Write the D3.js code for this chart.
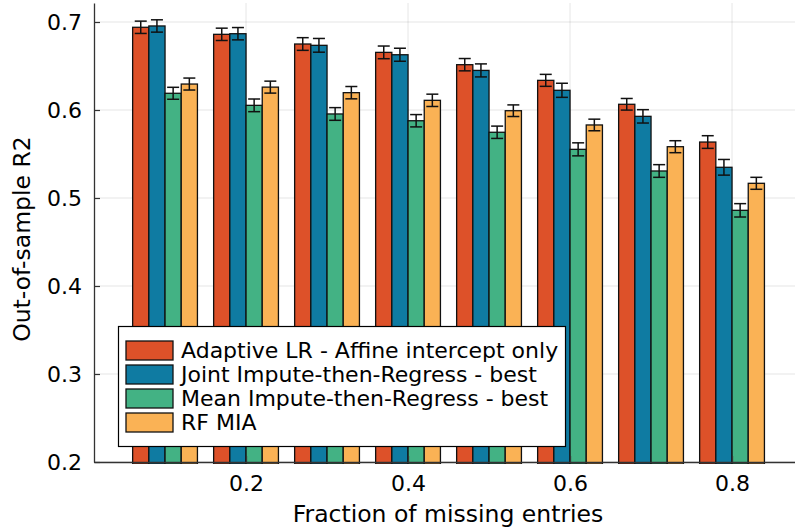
<!DOCTYPE html>
<html><head><meta charset="utf-8">
<script src="https://cdn.jsdelivr.net/npm/d3@7"></script>
<style>body{margin:0;background:#fff}svg{display:block}</style>
</head><body><svg id="c" width="795" height="529"></svg>
<script>
const fractions = [0.1,0.2,0.3,0.4,0.5,0.6,0.7,0.8];
const seriesNames = ["Adaptive LR - Affine intercept only","Joint Impute-then-Regress - best","Mean Impute-then-Regress - best","RF MIA"];
const colors = ["#dd5129","#0f7ba2","#43b284","#fab255"];
const adaptive = [0.694,0.686,0.675,0.6655,0.6515,0.6337,0.6065,0.5636];
const joint    = [0.6955,0.6867,0.6735,0.6628,0.645,0.6224,0.5928,0.5349];
const mean     = [0.619,0.6053,0.5955,0.5878,0.5747,0.5553,0.5307,0.486];
const rfmia    = [0.6295,0.626,0.6197,0.611,0.5992,0.583,0.5583,0.5167];
const adaptiveErr = [0.007,0.007,0.0072,0.0072,0.007,0.0068,0.0066,0.0072];
const jointErr    = [0.007,0.007,0.0078,0.0074,0.0074,0.008,0.0076,0.0089];
const meanErr     = [0.0068,0.0072,0.0072,0.007,0.007,0.0074,0.0072,0.0076];
const rfmiaErr    = [0.0068,0.0068,0.007,0.007,0.0066,0.0066,0.0068,0.0068];
const yTicks = [0.2,0.3,0.4,0.5,0.6,0.7];
const xTicks = [0.2,0.4,0.6,0.8];
const xTitle = "Fraction of missing entries";
const yTitle = "Out-of-sample R2";

const values = [adaptive, joint, mean, rfmia];
const errs = [adaptiveErr, jointErr, meanErr, rfmiaErr];

const svg = d3.select("#c");
const L = 94, R = 795, T = 3, B = 462;
const x = d3.scaleLinear().domain([0.0123, 0.0123 + (R-L)/810]).range([L, R]);
const y = d3.scaleLinear().domain([0.2, 0.7216]).range([B, T]);
const font = "DejaVu Sans";

// grid
const g = svg.append("g");
g.selectAll(".gy").data(yTicks).join("line")
  .attr("x1", L).attr("x2", R).attr("y1", d=>y(d)).attr("y2", d=>y(d))
  .attr("stroke", "#000").attr("stroke-opacity", 0.1).attr("stroke-width", 1);
g.selectAll(".gx").data(xTicks).join("line")
  .attr("x1", d=>x(d)).attr("x2", d=>x(d)).attr("y1", T).attr("y2", B)
  .attr("stroke", "#000").attr("stroke-opacity", 0.1).attr("stroke-width", 1);

svg.append("defs").append("clipPath").attr("id","clip")
  .append("rect").attr("x", L).attr("y", T).attr("width", R-L).attr("height", B-T+2);

const barW = 0.02; // in data units
const bars = svg.append("g").attr("clip-path","url(#clip)");
values.forEach((vals, s) => {
  const off = (s - 1.5) * barW;
  bars.append("g").selectAll("rect").data(vals).join("rect")
    .attr("x", (d,i)=>x(fractions[i]+off-barW/2))
    .attr("width", x(barW)-x(0))
    .attr("y", d=>y(d))
    .attr("height", d=>y(0.2)-y(d)+2)
    .attr("fill", colors[s]).attr("stroke", "#111").attr("stroke-width", 1.3);
});
// error bars
values.forEach((vals, s) => {
  const off = (s - 1.5) * barW;
  const capHalf = 6;
  const eg = bars.append("g").attr("stroke","#111").attr("stroke-width",1.5);
  vals.forEach((v,i)=>{
    const cx = x(fractions[i]+off), e = errs[s][i];
    eg.append("line").attr("x1",cx).attr("x2",cx).attr("y1",y(v+e)).attr("y2",y(v-e));
    eg.append("line").attr("x1",cx-capHalf).attr("x2",cx+capHalf).attr("y1",y(v+e)).attr("y2",y(v+e));
    eg.append("line").attr("x1",cx-capHalf).attr("x2",cx+capHalf).attr("y1",y(v-e)).attr("y2",y(v-e));
  });
});

// axes
const ya = svg.append("g").attr("transform",`translate(${L},0)`)
  .call(d3.axisLeft(y).tickValues(yTicks).tickFormat(d3.format(".1f")).tickSizeInner(-6).tickSizeOuter(0).tickPadding(12));
const xa = svg.append("g").attr("transform",`translate(0,${B})`)
  .call(d3.axisBottom(x).tickValues(xTicks).tickFormat(d3.format(".1f")).tickSizeInner(-6).tickSizeOuter(0).tickPadding(13));
[ya, xa].forEach(a=>{
  a.select(".domain").attr("stroke","#333").attr("stroke-width",1.3);
  a.selectAll(".tick line").attr("stroke","#333").attr("stroke-width",1.2);
  a.selectAll("text").attr("font-family",font).attr("font-size",22).attr("fill","#000");
});
ya.selectAll("text").attr("dy","0.35em");

svg.append("text").attr("x",448).attr("y",522).attr("text-anchor","middle")
  .attr("font-family",font).attr("font-size",23.5).text(xTitle);
svg.append("text").attr("transform",`translate(30,239) rotate(-90)`).attr("text-anchor","middle")
  .attr("font-family",font).attr("font-size",23.5).text(yTitle);

// legend
const lg = svg.append("g");
lg.append("rect").attr("x",118.5).attr("y",326.5).attr("width",447).attr("height",120)
  .attr("fill","#fff").attr("stroke","#000").attr("stroke-width",1.2);
seriesNames.forEach((n,i)=>{
  const yy = 341 + i*24;
  lg.append("rect").attr("x",126).attr("y",yy).attr("width",47).attr("height",19)
    .attr("fill",colors[i]).attr("stroke","#111").attr("stroke-width",1.3);
  lg.append("text").attr("x",181).attr("y",yy+17).attr("font-family",font).attr("font-size",22).text(n);
});
</script></body></html>
